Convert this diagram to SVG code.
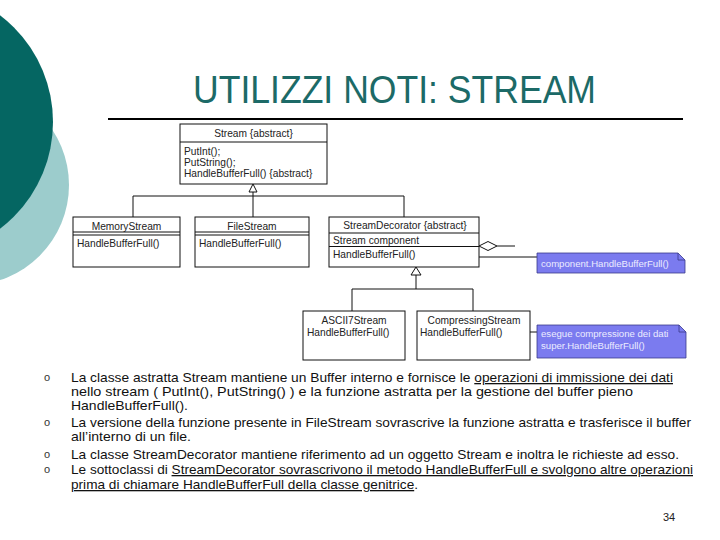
<svg xmlns="http://www.w3.org/2000/svg" width="720" height="540" viewBox="0 0 720 540">
<style>
.uml{font-family:"Liberation Sans",Arial,sans-serif;font-size:10.2px;fill:#222}
.box{fill:#fff;stroke:#111;stroke-width:1}
.ln{stroke:#111;stroke-width:1;fill:none}
.note{fill:#7b7bef;stroke:#3b3b8c;stroke-width:0.8}
.nt{font-family:"Liberation Sans",Arial,sans-serif;font-size:9.6px;fill:#ececff}
.body{font-family:"Liberation Sans",Arial,sans-serif;font-size:13px;fill:#111}
.bul{font-family:"Liberation Sans",Arial,sans-serif;font-size:11px;fill:#333}
.u{text-decoration:underline}
</style>
<rect width="720" height="540" fill="#fff"/>
<g id="background">
<circle cx="-31" cy="185" r="100" fill="#9ccccc"/>
<circle cx="-81" cy="122" r="134" fill="#056662"/>
</g>
<g id="title">
<text x="193" y="103" font-family="'Liberation Sans',Arial,sans-serif" font-size="39" fill="#1c6a67" textLength="403" lengthAdjust="spacingAndGlyphs">UTILIZZI NOTI: STREAM</text>
<line x1="108" y1="119" x2="683" y2="119" stroke="#000" stroke-width="2"/>
</g>
<g id="connectors">
<path class="ln" d="M253,192 V217 M133,196 H404 M133,196 V217 M404,196 V217"/>
<polygon points="253,184 249,192 257,192" fill="#fff" stroke="#111" stroke-width="1"/>
<path class="ln" d="M416,275 V289 M352,289 H473 M352,289 V311 M473,289 V311"/>
<polygon points="416,267 411,275 421,275" fill="#fff" stroke="#111" stroke-width="1"/>
<polygon points="479,246 488,241.5 497,246 488,250.5" fill="#fff" stroke="#111" stroke-width="1"/>
<path class="ln" d="M497,246 H515"/>
<path class="ln" d="M479,257 H537"/>
<path class="ln" d="M524,332 H537"/>
</g>
<g id="stream">
<rect class="box" x="180" y="124" width="147" height="60"/>
<line class="ln" x1="180" y1="142" x2="327" y2="142"/>
<text class="uml" x="253.5" y="137" text-anchor="middle">Stream {abstract}</text>
<text class="uml" x="184" y="155">PutInt();</text>
<text class="uml" x="184" y="166">PutString();</text>
<text class="uml" x="184" y="177">HandleBufferFull() {abstract}</text>
</g>
<g id="memoryStream">
<rect class="box" x="73" y="217" width="107" height="50"/>
<path class="ln" d="M73,232 H180 M73,235 H180"/>
<text class="uml" x="126.5" y="229.5" text-anchor="middle">MemoryStream</text>
<text class="uml" x="77" y="246.5">HandleBufferFull()</text>
</g>
<g id="fileStream">
<rect class="box" x="195" y="217" width="114" height="50"/>
<path class="ln" d="M195,232 H309 M195,235 H309"/>
<text class="uml" x="252" y="229.5" text-anchor="middle">FileStream</text>
<text class="uml" x="199" y="246.5">HandleBufferFull()</text>
</g>
<g id="streamDecorator">
<rect class="box" x="329" y="217" width="150" height="50"/>
<path class="ln" d="M329,233 H479 M329,246.5 H479"/>
<text class="uml" x="405" y="229" text-anchor="middle">StreamDecorator {abstract}</text>
<text class="uml" x="333" y="244">Stream component</text>
<text class="uml" x="333" y="257.5">HandleBufferFull()</text>
</g>
<g id="ascii7Stream">
<rect class="box" x="303" y="311" width="102" height="49"/>
<text class="uml" x="354" y="324" text-anchor="middle">ASCII7Stream</text>
<text class="uml" x="307" y="336">HandleBufferFull()</text>
</g>
<g id="compressingStream">
<rect class="box" x="417" y="311" width="113" height="49"/>
<text class="uml" x="474" y="324" text-anchor="middle">CompressingStream</text>
<text class="uml" x="420" y="336">HandleBufferFull()</text>
</g>
<g id="note1">
<path class="note" d="M537,253 H678 L685,260 V273 H537 Z"/>
<path d="M678,253 V260 H685" fill="none" stroke="#3b3b8c" stroke-width="0.8"/>
<text class="nt" x="541" y="266.5">component.HandleBufferFull()</text>
</g>
<g id="note2">
<path class="note" d="M537,325 H679 L686,332 V358 H537 Z"/>
<path d="M679,325 V332 H686" fill="none" stroke="#3b3b8c" stroke-width="0.8"/>
<text class="nt" x="541" y="337">esegue compressione dei dati</text>
<text class="nt" x="541" y="349">super.HandleBufferFull()</text>
</g>
<g id="bodytext">
<text class="bul" x="44" y="381">o</text>
<text class="bul" x="44" y="426">o</text>
<text class="bul" x="44" y="458">o</text>
<text class="bul" x="44" y="473">o</text>
<text class="body" x="71" y="382" textLength="602" lengthAdjust="spacingAndGlyphs">La classe astratta Stream mantiene un Buffer interno e fornisce le <tspan class="u">operazioni di immissione dei dati</tspan></text>
<text class="body" x="71" y="396" textLength="562" lengthAdjust="spacingAndGlyphs">nello stream ( PutInt(), PutString() ) e la funzione astratta per la gestione del buffer pieno</text>
<text class="body" x="71" y="410" textLength="117" lengthAdjust="spacingAndGlyphs">HandleBufferFull().</text>
<text class="body" x="71" y="427" textLength="620" lengthAdjust="spacingAndGlyphs">La versione della funzione presente in FileStream sovrascrive la funzione astratta e trasferisce il buffer</text>
<text class="body" x="71" y="441" textLength="120" lengthAdjust="spacingAndGlyphs">all’interno di un file.</text>
<text class="body" x="71" y="459" textLength="608" lengthAdjust="spacingAndGlyphs">La classe StreamDecorator mantiene riferimento ad un oggetto Stream e inoltra le richieste ad esso.</text>
<text class="body" x="71" y="474" textLength="622" lengthAdjust="spacingAndGlyphs">Le sottoclassi di <tspan class="u">StreamDecorator sovrascrivono il metodo HandleBufferFull e svolgono altre operazioni</tspan></text>
<text class="body" x="71" y="489" textLength="347" lengthAdjust="spacingAndGlyphs"><tspan class="u">prima di chiamare HandleBufferFull della classe genitrice</tspan>.</text>
<text x="663" y="521" font-family="'Liberation Sans',Arial,sans-serif" font-size="11" fill="#222">34</text>
</g>
</svg>
